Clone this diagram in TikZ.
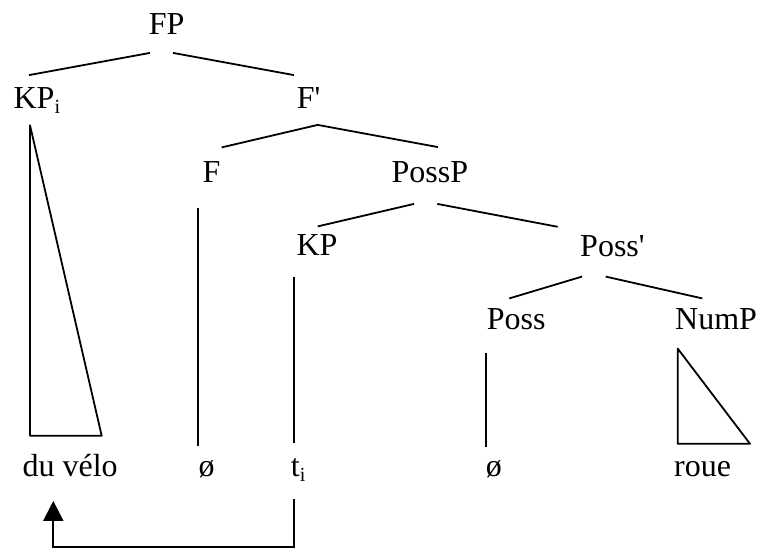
\documentclass[tikz,border=0pt]{standalone}
\usepackage{fontspec}
\setmainfont{Liberation Serif}
\usetikzlibrary{arrows.meta,calc}

\begin{document}
\begin{tikzpicture}
      [x = 1pt, y = -1pt,
      line width = 1.8pt,
      cat/.style= {
         anchor = base west,
         inner sep = 0pt,
         text height = 31pt,
         text depth = 19pt,
         font = \fontsize{32}{38}\selectfont
      },
      roof/.style= {line join = round},
      move/.style= {-{Triangle[length = 20pt, width = 20pt]}}]
      \useasboundingbox (0, 0) rectangle (757, 547);

      % categories
      \node[cat] (FP) at (148, 34) {FP};
      \node[cat] (KPi) at (12.7, 108) {KP\raisebox{-5pt}{\fontsize{20}{20}\selectfont i}};
      \node[cat] (Fbar) at (296, 108) {F\textquotesingle};
      \node[cat] (F) at (201.7, 182) {F};
      \node[cat] (PossP) at (390.7, 182) {PossP};
      \node[cat] (KP) at (295.7, 255.7) {KP};
      \node[cat] (Possbar) at (579.3, 256) {Poss\textquotesingle};
      \node[cat] (Poss) at (486, 329) {Poss};
      \node[cat] (NumP) at (674.3, 329) {NumP};

      % words
      \node[cat] (velo) at (21.7, 476.7) {du vélo};
      \node[cat] (nullF) at (197.7, 476.7) {ø};
      \node[cat] (ti) at (290, 476.7) {t\raisebox{-5pt}{\fontsize{20}{20}\selectfont i}};
      \node[cat] (nullPoss) at (485, 476.7) {ø};
      \node[cat] (roue) at (673.3, 476.7) {roue};

      % branches
      \draw ($(KPi.north west)+(16.3,-1)$) -- ($(FP.south west)+(2,-1)$);
      \draw ($(FP.south west)+(25,-1)$) -- ($(Fbar.north west)+(-2,-1)$);
      \draw ($(F.north west)+(20,-2.7)$) -- ($(Fbar.south west)+(21.7,-3)$)
         -- ($(PossP.north west)+(47.3,-3)$);
      \draw ($(KP.north west)+(22,2.6)$) -- ($(PossP.south west)+(23.3,2)$);
      \draw ($(PossP.south west)+(46.6,2)$) -- ($(Possbar.north west)+(-21.6,2.7)$);
      \draw ($(Poss.north west)+(23.3,1.3)$) -- ($(Possbar.south west)+(2.7,0.7)$);
      \draw ($(Possbar.south west)+(26.4,0.7)$) -- ($(NumP.north west)+(28,1.3)$);

      % leaves
      \draw[roof] ($(KPi.south west)+(17.3,-2.7)$) -- ($(velo.north west)+(8.3,-9)$)
         -- ($(velo.north west)+(80,-9)$) -- cycle;
      \draw ($(F.south west)+(-3.7,5.7)$) -- ($(nullF.north west)+(0.3,1.6)$);
      \draw ($(KP.south west)+(-1.7,1)$) -- ($(ti.north west)+(4,-1.7)$);
      \draw ($(Poss.south west)+(0,3.7)$) -- ($(nullPoss.north west)+(1,2)$);
      \draw[roof] ($(NumP.south west)+(3.4,-0.3)$) -- ($(roue.north west)+(4.4,-1)$)
         -- ($(roue.north west)+(76.7,-1)$) -- cycle;

      % movement
      \draw[move] ($(ti.south west)+(4,2.6)$) -- ++(0, 47.4)
         -| ($(velo.south west)+(31.6,4.3)$);
\end{tikzpicture}
\end{document}
